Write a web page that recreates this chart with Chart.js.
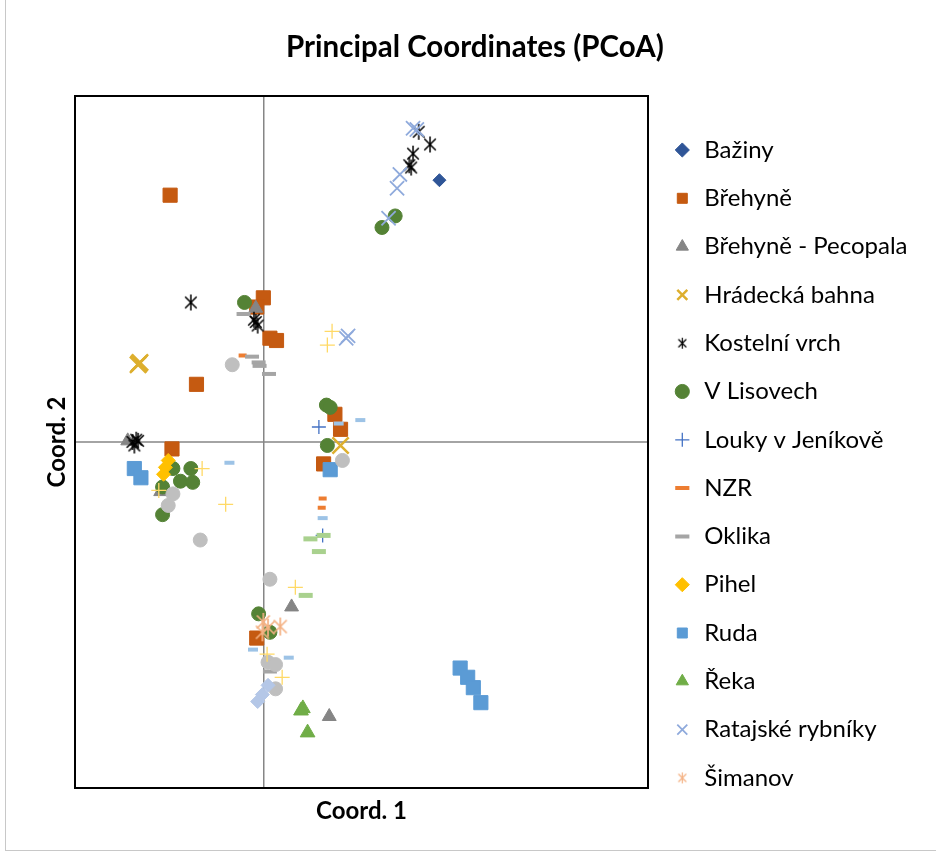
<!DOCTYPE html>
<html>
<head>
<meta charset="utf-8">
<script src="https://cdn.jsdelivr.net/npm/chart.js@4"></script>
<style>
  body { margin: 0; background: #fff; }
  #wrap { position: relative; width: 936px; height: 853px; }
  #edge { position: absolute; left: 5px; top: 0; width: 931px; height: 850px;
          border-left: 1px solid #c8c8c8; border-bottom: 1px solid #c8c8c8; pointer-events: none; }
</style>
</head>
<body>
<div id="wrap">
  <canvas id="pcoa" width="936" height="853"></canvas>
  <div id="edge"></div>
</div>
<script>
// series names (legend shows the first 14)
const seriesNames = ['Bažiny', 'Břehyně', 'Břehyně - Pecopala', 'Hrádecká bahna', 'Kostelní vrch',
    'V Lisovech', 'Louky v Jeníkově', 'NZR', 'Oklika', 'Pihel', 'Ruda', 'Řeka',
    'Ratajské rybníky', 'Šimanov', 'Série 15', 'Série 16', 'Série 17', 'Série 18', 'Série 19'];
const chartTitle = 'Principal Coordinates (PCoA)';
const xTitle = 'Coord. 1';
const yTitle = 'Coord. 2';

// [coord1, coord2] per sample
const bazinyPts = [[0.187, 0.227]];
const brehynePts = [[-0.099, 0.214], [0, 0.125], [-0.007, 0.117], [0.007, 0.090], [0.014, 0.088],
    [-0.071, 0.050], [-0.097, -0.006], [0.076, 0.024], [0.082, 0.011], [0.064, -0.019], [-0.007, -0.170]];
const pecopalaPts = [[-0.144, 0.001], [-0.008, 0.116], [0.030, -0.143], [0.070, -0.238], [-0.109, -0.043]];
const hradeckaPts = [[-0.132, 0.068], [-0.131, 0.069], [-0.133, 0.067], [0.082, -0.003]];
const kostelniPts = [[-0.077, 0.121], [-0.008, 0.104], [-0.006, 0.101], [-0.010, 0.106],
    [-0.139, 0], [-0.135, 0.002], [-0.137, -0.003], [-0.133, 0.001],
    [0.165, 0.269], [0.177, 0.258], [0.159, 0.250], [0.155, 0.240], [0.157, 0.238]];
const lisovechPts = [[-0.020, 0.121], [0.140, 0.196], [0.126, 0.186], [0.067, 0.032], [0.071, 0.030],
    [0.068, -0.003], [-0.096, -0.023], [-0.077, -0.023], [-0.088, -0.034], [-0.075, -0.035],
    [-0.107, -0.039], [-0.107, -0.063], [-0.005, -0.149], [0.007, -0.165]];
const loukyPts = [[0.059, 0.013], [0.063, -0.081]];
const nzrPts = [[-0.022, 0.075], [0.063, -0.049], [0.062, -0.057]];
const oklikaPts = [[-0.021, 0.111], [-0.012, 0.074], [-0.005, 0.069], [-0.004, 0.066], [0.006, 0.059], [0.007, -0.199]];
const pihelPts = [[-0.101, -0.016], [-0.106, -0.028], [-0.104, -0.022]];
const rudaPts = [[-0.137, -0.023], [-0.130, -0.031], [0.071, -0.024], [0.209, -0.196], [0.217, -0.204],
    [0.223, -0.213], [0.231, -0.226]];
const rekaPts = [[0.042, -0.231], [0.040, -0.233], [0.047, -0.252]];
const ratajskePts = [[0.163, 0.271], [0.159, 0.272], [0.145, 0.232], [0.142, 0.220], [0.133, 0.194],
    [0.090, 0.092], [0.088, 0.090]];
const simanovPts = [[0, -0.156], [-0.001, -0.165], [0.018, -0.160], [0.005, -0.161]];
const serie15Pts = [[-0.033, 0.067], [-0.096, -0.045], [-0.101, -0.055], [-0.067, -0.085], [0.084, -0.016],
    [0.007, -0.119], [0.005, -0.191], [0.013, -0.193], [0.013, -0.214]];
const serie16Pts = [[0.073, 0.096], [0.068, 0.084], [-0.065, -0.023], [-0.040, -0.054], [-0.111, -0.042],
    [0.034, -0.126], [0.004, -0.184], [0.020, -0.204]];
const serie17Pts = [[-0.036, -0.018], [0.103, 0.019], [0.080, 0.016], [0.063, -0.066], [-0.011, -0.180], [0.027, -0.187]];
const serie18Pts = [[0.050, -0.084], [0.064, -0.081], [0.059, -0.095], [0.045, -0.133]];
const serie19Pts = [[0.005, -0.211], [-0.001, -0.219], [-0.006, -0.225]];

const allPts = [bazinyPts, brehynePts, pecopalaPts, hradeckaPts, kostelniPts, lisovechPts, loukyPts,
    nzrPts, oklikaPts, pihelPts, rudaPts, rekaPts, ratajskePts, simanovPts,
    serie15Pts, serie16Pts, serie17Pts, serie18Pts, serie19Pts];

function asterisk(color, size, lw) {
    const c = document.createElement('canvas');
    c.width = c.height = size;
    const g = c.getContext('2d');
    const m = size / 2, r = size / 2 - 1, d = r * 0.72;
    g.strokeStyle = color;
    g.lineWidth = lw;
    g.beginPath();
    g.moveTo(m, m - r); g.lineTo(m, m + r);
    g.moveTo(m - d, m - d); g.lineTo(m + d, m + d);
    g.moveTo(m - d, m + d); g.lineTo(m + d, m - d);
    g.stroke();
    return c;
}

// marker look per series
const colors = ['#2F5597', '#C55A11', '#858585', '#DDAF2E', '#000000', '#548235', '#4472C4', '#ED7D31',
    '#A5A5A5', '#FFC000', '#5B9BD5', '#70AD47', '#8FAADC', '#F4B183',
    '#BFBFBF', '#FFD966', '#9DC3E6', '#A9D18E', '#B4C7E7'];
const styles = ['rectRot', 'rect', 'triangle', 'crossRot', asterisk('#000', 18, 1.5), 'circle', 'cross', 'line',
    'line', 'rectRot', 'rect', 'triangle', 'crossRot', asterisk('#F4B183', 20, 1.7),
    'circle', 'cross', 'line', 'line', 'rectRot'];
const radii = [6.5, 10, 8, 11.5, 7, 7, 7, 4, 7, 7, 10, 8.5, 10, 8, 7, 7.5, 5, 7, 7];
const borders = [1, 1, 1, 2.5, 1, 1, 1.3, 4, 4, 1, 1, 1, 1.8, 1, 1, 1.3, 4, 5, 1];
const legendIcons = {4: asterisk('#000', 13, 1.2), 13: asterisk('#F4B183', 13, 1.2)};

const FONT = 'Lato';
const legendSize = 24;
const legendPad = 24.3;

function build() {
    const datasets = allPts.map(function(pts, i) {
        return {
            label: seriesNames[i],
            data: pts.map(p => ({x: p[0], y: p[1]})),
            pointStyle: styles[i],
            pointRadius: radii[i],
            pointHoverRadius: radii[i],
            pointBorderWidth: borders[i],
            pointBackgroundColor: colors[i],
            pointBorderColor: colors[i],
            backgroundColor: colors[i],
            borderColor: colors[i],
            order: -i
        };
    });

    // legend left edge at x=648 (plot area right edge)
    const probe = document.createElement('canvas').getContext('2d');
    probe.font = legendSize + 'px ' + FONT;
    const maxText = Math.max.apply(null, seriesNames.slice(0, 14).map(t => probe.measureText(t).width));
    const legendW = legendPad + 20 + legendSize / 2 + maxText + 10;
    const padRight = Math.max(0, 936 - 648 - legendW);

    // plot frame, horizontal zero line and the titles that sit outside the layout boxes
    const frame = {
        id: 'frame',
        beforeDatasetsDraw(chart) {
            const a = chart.chartArea, c = chart.ctx;
            const y0 = chart.scales.y.getPixelForValue(0);
            c.save();
            c.strokeStyle = '#868686';
            c.lineWidth = 1.5;
            c.beginPath();
            c.moveTo(a.left, y0);
            c.lineTo(a.right, y0);
            c.stroke();
            c.strokeStyle = '#000';
            c.lineWidth = 2;
            c.strokeRect(a.left, a.top, a.right - a.left, a.bottom - a.top);
            c.fillStyle = '#000';
            c.textAlign = 'center';
            c.textBaseline = 'middle';
            c.font = 'bold 29.5px ' + FONT;
            c.fillText(chartTitle, 475, 47);
            c.font = 'bold 24px ' + FONT;
            c.translate(57, (a.top + a.bottom) / 2);
            c.rotate(-Math.PI / 2);
            c.fillText(yTitle, 0, 0);
            c.restore();
        }
    };

    const zeroLine = ctx => (ctx.tick && Math.abs(ctx.tick.value) < 1e-9) ? '#868686' : 'rgba(0,0,0,0)';

    new Chart(document.getElementById('pcoa').getContext('2d'), {
        type: 'scatter',
        data: {datasets: datasets},
        plugins: [frame],
        options: {
            responsive: false,
            animation: false,
            layout: {padding: {left: 75, right: padRight, top: 96, bottom: 20}},
            scales: {
                x: {
                    min: -0.2, max: 0.4085,
                    ticks: {display: false, stepSize: 0.1},
                    grid: {color: zeroLine, lineWidth: 1.5, drawTicks: false},
                    border: {display: false},
                    title: {display: true, text: xTitle, color: '#000',
                        font: {family: FONT, size: 24, weight: 'bold'}, padding: {top: 0, bottom: 7.6}},
                    afterFit(s) { s.height = 45; }
                },
                y: {
                    display: false,
                    min: -0.3, max: 0.3,
                    ticks: {stepSize: 0.1}
                }
            },
            plugins: {
                title: {display: false},
                legend: {
                    position: 'right',
                    align: 'start',
                    title: {display: true, text: ' ', font: {size: 10}, padding: {top: 0, bottom: 5.7}},
                    labels: {
                        usePointStyle: true,
                        boxWidth: 20,
                        boxHeight: 10,
                        padding: legendPad,
                        color: '#000',
                        font: {family: FONT, size: legendSize},
                        filter: item => item.datasetIndex < 14,
                        sort: (a, b) => a.datasetIndex - b.datasetIndex,
                        generateLabels(chart) {
                            const items = Chart.defaults.plugins.legend.labels.generateLabels(chart);
                            items.forEach(it => {
                                if (legendIcons[it.datasetIndex]) it.pointStyle = legendIcons[it.datasetIndex];
                            });
                            return items;
                        }
                    }
                },
                tooltip: {enabled: false}
            }
        }
    });
}

Promise.all([
    document.fonts.load('24px ' + FONT),
    document.fonts.load('bold 24px ' + FONT)
]).then(build, build);
</script>
</body>
</html>
